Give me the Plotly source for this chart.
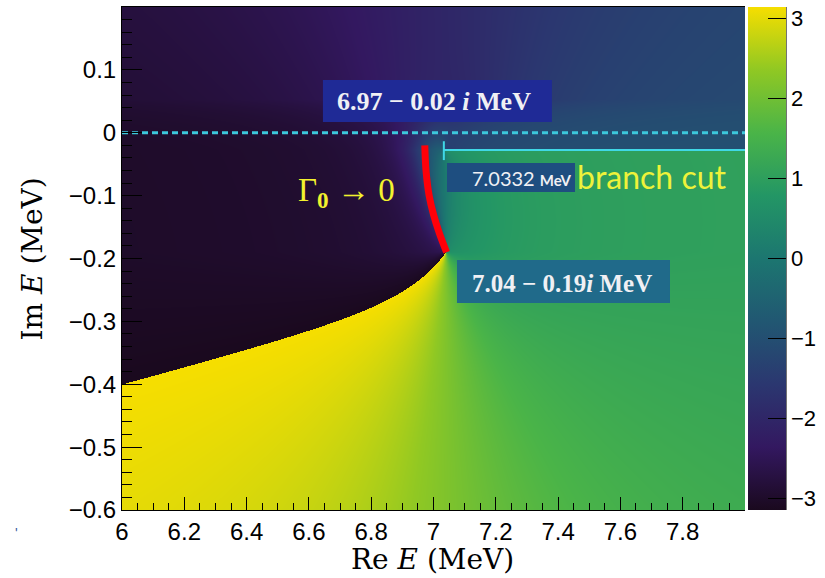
import numpy as np
import plotly.graph_objects as go

# ---- axis extents (MeV) ----
re_range = [6.0, 8.0]
im_range = [-0.6, 0.2]
n_re, n_im = 623, 503

# ---- values ----
pole = [7.04, -0.19]            # 7.04 - 0.19 i MeV (phase winds around it)
threshold = [7.0332, -0.0275]   # branch point, cut runs to the right
cut_weight = [0.321]            # phase jump across the cut / 2pi
phase_offset = [-0.92]          # phase offset (rad)
shear = [0.55]                  # tilt of the steep phase front along the red curve
aniso_left = [3.0]              # steepness left of the front
aniso_right = [3.0]             # steepness right of the front
fade = [0.08]                   # height over which the front fades above the cut

# red trajectory (Gamma_0 -> 0)
traj_re = [6.972, 6.976, 6.986, 7.000, 7.019, 7.042]
traj_im = [-0.020, -0.060, -0.100, -0.130, -0.160, -0.190]

# tick labels
x_ticks = [6.0, 6.2, 6.4, 6.6, 6.8, 7.0, 7.2, 7.4, 7.6, 7.8]
x_ticktext = ["6", "6.2", "6.4", "6.6", "6.8", "7", "7.2", "7.4", "7.6", "7.8"]
y_ticks = [-0.6, -0.5, -0.4, -0.3, -0.2, -0.1, 0.0, 0.1]
y_ticktext = ["\u22120.6", "\u22120.5", "\u22120.4", "\u22120.3", "\u22120.2", "\u22120.1", "0", "0.1"]
cb_ticks = [-3, -2, -1, 0, 1, 2, 3]

# ---- phase map ----
xe = np.linspace(re_range[0], re_range[1], n_re + 1)
ye = np.linspace(im_range[0], im_range[1], n_im + 1)
xc = 0.5 * (xe[:-1] + xe[1:])
yc = 0.5 * (ye[:-1] + ye[1:])
X, Y = np.meshgrid(xc, yc)
dx = X - pole[0]
dy = Y - pole[1]
w = np.clip(1.0 - (Y - threshold[1]) / fade[0], 0.0, 1.0)
u = dx + shear[0] * np.maximum(dy, 0.0) * w
s = np.where(u < 0, 1.0 + (aniso_left[0] - 1.0) * w, 1.0 + (aniso_right[0] - 1.0) * w)
phi1 = np.where(dy >= 0, np.arctan2(dy, s * u), np.arctan2(dy, dx))
phi2 = np.mod(np.arctan2(Y - threshold[1], X - threshold[0]), 2 * np.pi)
z = -phi1 + cut_weight[0] * phi2 + phase_offset[0]
z = (np.mod(z + np.pi, 2 * np.pi) - np.pi).astype(np.float32)

root_viridis = [
    [0.000, "rgb(26,9,30)"],
    [0.125, "rgb(51,24,96)"],
    [0.250, "rgb(43,55,112)"],
    [0.375, "rgb(33,87,114)"],
    [0.500, "rgb(28,118,112)"],
    [0.625, "rgb(35,150,101)"],
    [0.750, "rgb(74,180,72)"],
    [0.875, "rgb(144,200,35)"],
    [1.000, "rgb(246,222,0)"],
]

fig = go.Figure()
fig.add_trace(go.Heatmap(
    x=xc.astype(np.float32), y=yc.astype(np.float32), z=z,
    zmin=-np.pi, zmax=np.pi,
    colorscale=root_viridis, zsmooth=False, hoverinfo="skip",
    colorbar=dict(
        x=1.0048, xanchor="left", xpad=0, ypad=0, y=0.5, yanchor="middle",
        len=1, thickness=38, outlinewidth=0,
        tickmode="array", tickvals=cb_ticks,
        ticks="inside", ticklen=18, tickwidth=1, tickcolor="black",
        tickfont=dict(family="Liberation Sans", size=22, color="black"),
    ),
))

# dashed real axis
fig.add_trace(go.Scatter(
    x=re_range, y=[0, 0], mode="lines",
    line=dict(color="#3cc8dc", width=3, dash="6px,4px"),
    hoverinfo="skip", showlegend=False))
# branch cut
fig.add_trace(go.Scatter(
    x=[threshold[0], re_range[1]], y=[threshold[1], threshold[1]], mode="lines",
    line=dict(color="#40d8e6", width=2), hoverinfo="skip", showlegend=False))
fig.add_trace(go.Scatter(
    x=[threshold[0], threshold[0]], y=[threshold[1] + 0.014, threshold[1] - 0.016],
    mode="lines", line=dict(color="#40d8e6", width=2),
    hoverinfo="skip", showlegend=False))
# red trajectory
fig.add_trace(go.Scatter(
    x=traj_re, y=traj_im, mode="lines",
    line=dict(color="#ff0008", width=7, shape="spline"),
    hoverinfo="skip", showlegend=False))

# label boxes
boxes = [
    (6.645, 7.380, 0.0171, 0.0839, "rgb(31,42,150)"),
    (7.0433, 7.4543, -0.0942, -0.0481, "rgb(30,78,128)"),
    (7.0754, 7.7592, -0.2708, -0.2024, "rgb(32,106,138)"),
]
for x0, x1, y0, y1, col in boxes:
    fig.add_shape(type="rect", x0=x0, x1=x1, y0=y0, y1=y1, xref="x", yref="y",
                  fillcolor=col, line=dict(width=0), layer="above")

fig.add_shape(type="line", xref="paper", yref="paper", x0=1.0659, x1=1.0659,
              y0=0, y1=1, line=dict(color="black", width=1))

serif = "Liberation Serif"
fig.add_annotation(x=7.002, y=0.0505, xref="x", yref="y", showarrow=False,
                   text="<b>6.97 \u2212 0.02 <i>i</i> MeV</b>",
                   font=dict(family=serif, size=26, color="#f0f0f4"))
fig.add_annotation(x=7.283, y=-0.0712, xref="x", yref="y", showarrow=False,
                   text="7.0332 <span style='font-size:15px'><b>MeV</b></span>",
                   font=dict(family="Lato", size=20, color="#f0f0f4"))
fig.add_annotation(x=7.4125, y=-0.2400, xref="x", yref="y", showarrow=False,
                   text="<b>7.04 \u2212 0.19<i>i</i> MeV</b>",
                   font=dict(family=serif, size=25, color="#f0f0f4"))
fig.add_annotation(x=7.703, y=-0.0688, xref="x", yref="y", showarrow=False,
                   text="branch cut",
                   font=dict(family="Lato", size=32, color="#eef23a"))
fig.add_annotation(x=6.72, y=-0.095, xref="x", yref="y", showarrow=False,
                   text="\u0393<sub><b>0</b></sub> \u2192 0",
                   font=dict(family=serif, size=33, color="#f2f22e"))

# axis titles
title_font = dict(family="DejaVu Serif", size=28, color="black")
fig.add_annotation(x=0.4976, y=-0.0994, xref="paper", yref="paper", showarrow=False,
                   yanchor="middle", text="Re <i>E</i> (MeV)", font=title_font)
fig.add_annotation(x=-0.1429, y=0.5, xref="paper", yref="paper", showarrow=False,
                   textangle=-90, xanchor="center", yanchor="middle",
                   text="Im <i>E</i> (MeV)", font=title_font)
fig.add_annotation(x=-0.175, y=-0.066, xref="paper", yref="paper", showarrow=False,
                   text="'", font=dict(family="Liberation Sans", size=14, color="#3a5aa0"))

tickfont = dict(family="Liberation Sans", size=24, color="black")
fig.update_xaxes(
    range=re_range, tickmode="array", tickvals=x_ticks, ticktext=x_ticktext,
    ticks="inside", ticklen=13, tickwidth=1, tickcolor="black",
    minor=dict(tickmode="linear", tick0=6.0, dtick=0.05, ticks="inside",
               ticklen=7, tickwidth=1, tickcolor="black"),
    showline=True, linecolor="black", linewidth=1, mirror=True,
    showgrid=False, zeroline=False, tickfont=tickfont)
fig.update_yaxes(
    range=im_range, tickmode="array", tickvals=y_ticks, ticktext=y_ticktext,
    ticks="inside", ticklen=20, tickwidth=1, tickcolor="black",
    minor=dict(tickmode="linear", tick0=0.0, dtick=0.02, ticks="inside",
               ticklen=10, tickwidth=1, tickcolor="black"),
    showline=True, linecolor="black", linewidth=1, mirror=False,
    showgrid=False, zeroline=False, tickfont=tickfont)

fig.update_layout(
    width=825, height=578,
    margin=dict(l=122, r=80, t=7, b=68, autoexpand=False),
    paper_bgcolor="white", plot_bgcolor="white",
    showlegend=False,
)
fig.write_html("out.html",
               config={"displayModeBar": False},
               post_script="document.body.style.margin='0px';"
                           "document.body.style.padding='0px';"
                           "document.body.style.overflow='hidden';")
